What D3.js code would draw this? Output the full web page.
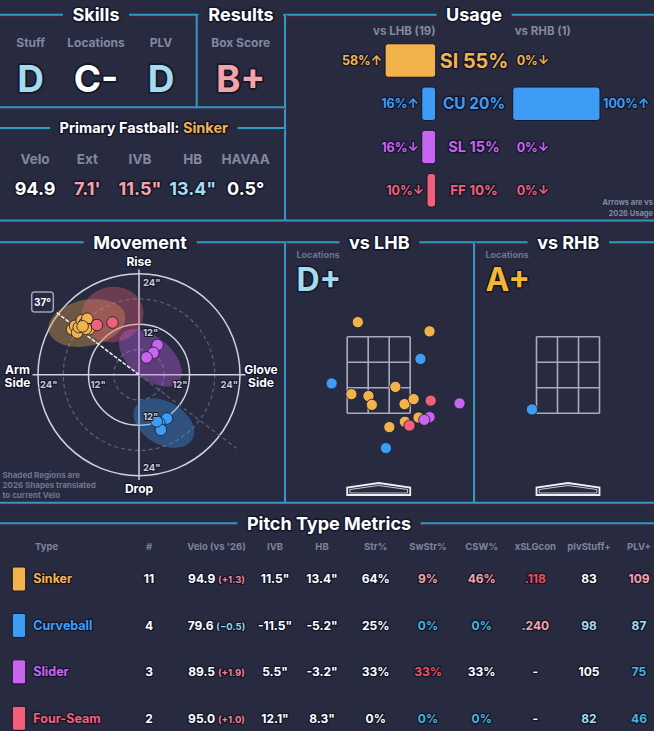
<!DOCTYPE html>
<html><head><meta charset="utf-8">
<script src="https://cdn.jsdelivr.net/npm/d3@7"></script>
<style>
html,body{margin:0;padding:0;background:#282a3f;}
svg text{font-family:Inter,"DejaVu Sans",sans-serif;font-weight:700;}
.o{paint-order:stroke;stroke:#14162a;stroke-linejoin:round;}
</style></head>
<body><svg id="c" width="654" height="731"></svg>
<script>
// ---------------- DATA ----------------
const pitchCodes = ["SI","CU","SL","FF"];
const pitchNames = ["Sinker","Curveball","Slider","Four-Seam"];
const skillLabels = ["Stuff","Locations","PLV"];
const skillGrades = ["D","C-","D"];
const boxScoreGrade = "B+";
const primaryFastball = "Sinker";
const fbLabels = ["Velo","Ext","IVB","HB","HAVAA"];
const fbValues = ["94.9","7.1'","11.5\"","13.4\"","0.5°"];
const fbGrades = [0,1,1,-1,0];
const usageAll = [55,20,15,10];
const usageLHB = [58,16,16,10];
const usageRHB = [0,100,0,0];
const arrowLHB = ["↑","↑","↓","↓"];
const arrowRHB = ["↓","↑","↓","↓"];
const countLHB = 19, countRHB = 1;
const armAngle = 37;
// movement (HB, IVB in inches)
const movSI = [[15.9,10.8],[15.2,11.6],[14.7,10.0],[14.3,11.3],[13.6,12.9],[13.1,11.9],[12.8,12.4],[12.3,13.3],[11.9,10.8],[12.6,10.9],[13.4,11.5]];
const movCU = [[-6.6,-10.4],[-4.8,-11.4],[-5.2,-13.1],[-4.2,-11.1]];
const movSL = [[-4.4,7.05],[-3.4,5.2],[-1.8,4.1]];
const movFF = [[10.0,11.8],[6.3,12.4]];
// 2026 shapes: [HB, IVB, rx, ry, rotation deg]
const shapeSI = [12.4,12.3,9.3,5.5,-12];
const shapeFF = [6.3,14.3,7.4,6.6,-10];
const shapeSL = [-2.7,4.0,8.8,5.0,40];
const shapeCU = [-5.9,-11.5,7.8,5.1,30];
// locations (plate_x, plate_z in ft)
const locLHB_SI = [[-0.55,3.88],[1.34,3.64],[-0.72,2.0],[-0.27,1.95],[-0.18,1.72],[0.44,2.19],[0.68,1.74],[0.92,1.87],[1.05,1.39],[0.69,1.28],[0.28,1.14]];
const locLHB_CU = [[1.10,2.92],[-1.24,2.28],[0.19,0.59]];
const locLHB_SL = [[2.13,1.76],[1.34,1.40],[1.20,1.33]];
const locLHB_FF = [[1.37,1.83],[0.81,1.18]];
const locRHB_CU = [[-0.95,1.60]];
const locGradeLHB = "D+", locGradeRHB = "A+";
// table
const tblHeaders = ["Type","#","Velo (vs '26)","IVB","HB","Str%","SwStr%","CSW%","xSLGcon","plvStuff+","PLV+"];
const tblCount = [11,4,3,2];
const tblVelo = ["94.9","79.6","89.5","95.0"];
const tblVeloDiff = [1.3,-0.5,1.9,1.0];
const tblIVB = ["11.5\"","-11.5\"","5.5\"","12.1\""];
const tblHB = ["13.4\"","-5.2\"","-3.2\"","8.3\""];
const tblStr = ["64%","25%","33%","0%"];
const tblSwStr = ["9%","0%","33%","0%"];
const tblCSW = ["46%","0%","33%","0%"];
const tblXSLG = [".118",".240","-","-"];
const tblStuff = [83,98,105,82];
const tblPLV = [109,87,75,46];
const gStr = [0,0,0,0], gSwStr=[1,-2,2,-2], gCSW=[1,-2,0,-2], gXSLG=[2,1,0,0], gStuff=[0,-1,0,-1], gPLV=[1,-1,-2,-2];

// ---------------- STYLE ----------------
const CY="#2a9cc3", SHADOW="#4a2342", GRAY="#8088a2", BG="#282a3f";
const pitchColor = d3.scaleOrdinal().domain(pitchCodes).range(["#f2b34c","#3d9df5","#c865ef","#f0607a"]);
const gradeColor = d3.scaleOrdinal().domain([-2,-1,0,1,2]).range(["#45b6da","#a6dcee","#ffffff","#f4a3a8","#ef4f5c"]);
const letterColor = d3.scaleOrdinal().domain(["A+","B+","C-","D+","D"]).range(["#f4b731","#f4a3a8","#ffffff","#a3dbef","#a3dbef"]);

const svg = d3.select("#c");
svg.append("rect").attr("width",654).attr("height",731).attr("fill",BG);
const gLines = svg.append("g");
const g = svg.append("g");

function txt(parent,x,y,s,size,fill,anchor="middle",sw=2.5){
  return parent.append("text").attr("x",x).attr("y",y).attr("font-size",size)
   .attr("fill",fill).attr("text-anchor",anchor).attr("class","o").attr("stroke-width",sw).text(s);
}
function title(x,yc,s,size=18){ return txt(g,x,yc+size*0.36,s,size,"#fff","middle",3); }
function seg(x1,y1,x2,y2){
  const horiz = y1===y2;
  gLines.append("line").attr("x1",x1+(horiz?0:1.5)).attr("x2",x2+(horiz?0:1.5)).attr("y1",y1+(horiz?1.5:0)).attr("y2",y2+(horiz?1.5:0)).attr("stroke",SHADOW).attr("stroke-width",1.2);
  gLines.append("line").attr("x1",x1).attr("x2",x2).attr("y1",y1).attr("y2",y2).attr("stroke",CY).attr("stroke-width",2);
}
function hline(y,x0,x1,titles){
  let segs=[[x0,x1]];
  titles.forEach(t=>{const b=t.node().getBBox(); const a=b.x-9.5, c=b.x+b.width+9.5;
    segs=segs.flatMap(([p,q])=> (c<=p||a>=q)?[[p,q]]:[[p,Math.max(p,a)],[Math.min(q,c),q]].filter(s=>s[1]-s[0]>0.5));});
  segs.forEach(([p,q])=>seg(p,y,q,y));
}

// ---------------- TOP: Skills / Results ----------------
const tSkills = title(96,14.7,"Skills");
const tResults = title(241,14.7,"Results");
const tUsage = title(474,14.7,"Usage");
hline(14.7,0,654,[tSkills,tResults,tUsage]);
seg(196.7,14.7,196.7,107.3);
seg(285,14.7,285,220);
seg(0,107.3,285,107.3);
seg(0,220.5,654,220.5);

const skillX=[30.7,96,161];
skillLabels.forEach((l,i)=>{
  txt(g,skillX[i],46.6,l,12,GRAY,"middle",0);
  txt(g,skillX[i],91.7,skillGrades[i],37,letterColor(skillGrades[i]),"middle",3.5);
});
txt(g,240.7,46.6,"Box Score",12,GRAY,"middle",0);
txt(g,240.7,91.7,boxScoreGrade,37,letterColor(boxScoreGrade),"middle",3.5);

// Primary fastball
const tPF = g.append("text").attr("x",143.8).attr("y",128+5.3).attr("font-size",14.5)
  .attr("text-anchor","middle").attr("class","o").attr("stroke-width",3);
tPF.append("tspan").attr("fill","#fff").text("Primary Fastball: ");
tPF.append("tspan").attr("fill",pitchColor("SI")).text(primaryFastball);
hline(128,0,285,[tPF]);
const fbX=[35,87.3,140,192.7,245.7];
fbLabels.forEach((l,i)=>{
  txt(g,fbX[i],164,l,13.5,GRAY,"middle",0);
  txt(g,fbX[i],194.8,fbValues[i],18,gradeColor(fbGrades[i]),"middle",3);
});

// ---------------- Usage ----------------
const uy = d3.scalePoint().domain(pitchCodes).range([60.5,190.3]);
const uw = d3.scaleLinear().domain([0,100]).range([0,87.3]);
const uFont = d3.scaleSqrt().domain([10,55]).range([13.5,19.8]);
const lhbRight=435.7, rhbLeft=512.7, barH=33.5;
txt(g,lhbRight,35,`vs LHB (${countLHB})`,11.5,GRAY,"end",0);
txt(g,rhbLeft+2,35,`vs RHB (${countRHB})`,11.5,GRAY,"start",0);
pitchCodes.forEach((c,i)=>{
  const y=uy(c), col=pitchColor(c);
  const wl=uw(usageLHB[i]), wr=uw(usageRHB[i]);
  if(wl>0) g.append("rect").attr("x",lhbRight-wl).attr("y",y-barH/2).attr("width",wl).attr("height",barH).attr("rx",3).attr("fill",col).attr("stroke","#14162a").attr("stroke-width",1);
  if(wr>0) g.append("rect").attr("x",rhbLeft).attr("y",y-barH/2).attr("width",wr).attr("height",barH).attr("rx",3).attr("fill",col).attr("stroke","#14162a").attr("stroke-width",1);
  txt(g,lhbRight-wl-3,y+4.5,usageLHB[i]+"%"+arrowLHB[i],12.5,col,"end",2.5);
  txt(g,rhbLeft+wr+(wr>0?3:4),y+4.5,usageRHB[i]+"%"+arrowRHB[i],12.5,col,"start",2.5);
  const fs=uFont(usageAll[i]);
  txt(g,474,y+fs*0.36,c+" "+usageAll[i]+"%",fs,col,"middle",3);
});
txt(g,653,205,"Arrows are vs",7.5,GRAY,"end",0);
txt(g,653,216,"2026 Usage",7.5,GRAY,"end",0);

// ---------------- Row 2 titles ----------------
const tMov = title(140,242.3,"Movement");
const tL = title(379.3,242.3,"vs LHB");
const tR = title(568.3,242.3,"vs RHB");
hline(242.3,0,654,[tMov,tL,tR]);
seg(285,242.3,285,502.7);
seg(474,242.3,474,502.7);
seg(0,502.7,654,502.7);

// ---------------- Movement ----------------
const mcx=139, mcy=374.7, mR=101;
const mx=d3.scaleLinear().domain([0,24]).range([mcx,mcx-mR]);
const my=d3.scaleLinear().domain([0,24]).range([mcy,mcy-mR]);
const mr=d3.scaleLinear().domain([0,24]).range([0,mR]);
const mg=g.append("g");
[6,18].forEach(v=>mg.append("circle").attr("cx",mcx).attr("cy",mcy).attr("r",mr(v)).attr("fill","none").attr("stroke","#5d6078").attr("stroke-width",1.2).attr("stroke-dasharray","4,3"));
[12,24].forEach(v=>mg.append("circle").attr("cx",mcx).attr("cy",mcy).attr("r",mr(v)).attr("fill","none").attr("stroke","#cfd1dc").attr("stroke-width",1.5));
mg.append("line").attr("x1",mx(25.3)).attr("x2",mx(-25.3)).attr("y1",mcy).attr("y2",mcy).attr("stroke","#cfd1dc").attr("stroke-width",1.5);
mg.append("line").attr("x1",mcx).attr("x2",mcx).attr("y1",my(25)).attr("y2",my(-25)).attr("stroke","#cfd1dc").attr("stroke-width",1.5);
const rad=armAngle*Math.PI/180;
mg.append("line").attr("x1",mcx).attr("y1",mcy).attr("x2",mx(-29*Math.cos(rad))).attr("y2",my(-29*Math.sin(rad))).attr("stroke","#5d6078").attr("stroke-width",1.2).attr("stroke-dasharray","4,3");
[["SI",shapeSI],["FF",shapeFF],["SL",shapeSL],["CU",shapeCU]].forEach(([c,s])=>{
  mg.append("ellipse").attr("cx",0).attr("cy",0).attr("rx",mr(s[2])).attr("ry",mr(s[3]))
   .attr("transform",`translate(${mx(s[0])},${my(s[1])}) rotate(${s[4]})`)
   .attr("fill",pitchColor(c)).attr("fill-opacity",0.34);
});
mg.append("line").attr("x1",mcx).attr("y1",mcy).attr("x2",mx(24.5*Math.cos(rad))).attr("y2",my(24.5*Math.sin(rad))).attr("stroke","#f2f2f6").attr("stroke-width",1.5).attr("stroke-dasharray","4,1.5");
mg.append("rect").attr("x",31.7).attr("y",292).attr("width",21.6).attr("height",20).attr("rx",3).attr("fill",BG).attr("stroke","#9ea3b8").attr("stroke-width",1.5);
txt(mg,42.5,305.5,armAngle+"°",10,"#fff","middle",0);
[["SI",movSI],["FF",movFF],["SL",movSL],["CU",movCU]].forEach(([c,arr])=>{
  arr.forEach(p=>mg.append("circle").attr("cx",mx(p[0])).attr("cy",my(p[1])).attr("r",5.8).attr("fill",pitchColor(c)).attr("stroke","#1a1c2e").attr("stroke-width",0.8));
});
const TC="#c8cad6";
[24,12].forEach(v=>{
  txt(mg,mcx+4,my(v)+12,v+"\"",9.5,TC,"start",2);
  txt(mg,mcx+4,my(-v)-5,v+"\"",9.5,TC,"start",2);
  txt(mg,mx(v)+2,mcy+13,v+"\"",9.5,TC,"start",2);
  txt(mg,mx(-v)-2,mcy+13,v+"\"",9.5,TC,"end",2);
});
txt(mg,mcx,266,"Rise",12,"#fff","middle",2.5);
txt(mg,mcx,493,"Drop",12,"#fff","middle",2.5);
txt(mg,17.5,373.5,"Arm",12,"#fff","middle",2.5);
txt(mg,17.5,387,"Side",12,"#fff","middle",2.5);
txt(mg,261,373.5,"Glove",12,"#fff","middle",2.5);
txt(mg,261,387,"Side",12,"#fff","middle",2.5);
["Shaded Regions are","2026 Shapes translated","to current Velo"].forEach((s,i)=>txt(mg,2.5,477.5+i*10,s,8,"#6f7590","start",0));

// ---------------- Locations ----------------
function locPanel(cx,labelX,grade,sets){
  const lg=g.append("g");
  const lx=d3.scaleLinear().domain([-0.83,0.83]).range([cx-31.5,cx+31.5]);
  const ly=d3.scaleLinear().domain([1.5,3.5]).range([413.3,336.7]);
  txt(lg,labelX,257.5,"Locations",9,"#6f7590","start",0);
  txt(lg,labelX,291,grade,32,letterColor(grade),"start",3);
  const xs=d3.range(4).map(i=>-0.83+i*1.66/3), zs=d3.range(4).map(i=>1.5+i*2/3);
  xs.forEach(v=>lg.append("line").attr("x1",lx(v)).attr("x2",lx(v)).attr("y1",ly(1.5)).attr("y2",ly(3.5)).attr("stroke","#a9abbb").attr("stroke-width",1.6));
  zs.forEach(v=>lg.append("line").attr("x1",lx(-0.83)).attr("x2",lx(0.83)).attr("y1",ly(v)).attr("y2",ly(v)).attr("stroke","#a9abbb").attr("stroke-width",1.6));
  const plate=[[-0.83,495],[-0.83,487.5],[0,483],[0.83,487.5],[0.83,495]];
  lg.append("polygon").attr("points",plate.map(p=>[lx(p[0]),p[1]].join(",")).join(" ")).attr("fill","none").attr("stroke","#eeeef3").attr("stroke-width",1.8);
  const inner=[[-0.76,493],[-0.76,489.5],[0,485.5],[0.76,489.5],[0.76,493]];
  lg.append("polygon").attr("points",inner.map(p=>[lx(p[0]),p[1]].join(",")).join(" ")).attr("fill","none").attr("stroke","#eeeef3").attr("stroke-width",0.8);
  sets.forEach(([c,arr])=>arr.forEach(p=>lg.append("circle").attr("cx",lx(p[0])).attr("cy",ly(p[1])).attr("r",5.6).attr("fill",pitchColor(c)).attr("stroke","#1a1c2e").attr("stroke-width",0.8)));
}
locPanel(378.7,296.5,locGradeLHB,[["SI",locLHB_SI],["CU",locLHB_CU],["SL",locLHB_SL],["FF",locLHB_FF]]);
locPanel(568,485.5,locGradeRHB,[["CU",locRHB_CU]]);

// ---------------- Table ----------------
const tT = title(329,523.3,"Pitch Type Metrics");
hline(523.3,0,654,[tT]);
const colX=[35,149,216.5,275,322,375.7,428,481.7,535.3,589,639];
tblHeaders.forEach((h,i)=>txt(g,colX[i],550.2,h,9.5,"#7d849e",i===0?"start":"middle",0));
const ry=d3.scalePoint().domain(pitchCodes).range([579,718.3]);
pitchCodes.forEach((c,i)=>{
  const y=ry(c), b=y+4.4, col=pitchColor(c);
  g.append("rect").attr("x",12.3).attr("y",y-12).attr("width",13.4).attr("height",24).attr("rx",2).attr("fill",col).attr("stroke","#14162a").attr("stroke-width",1);
  txt(g,33.3,b,pitchNames[i],12.5,col,"start",2.5);
  txt(g,colX[1],b,tblCount[i],12,"#fff","middle",2.5);
  const vt=g.append("text").attr("x",colX[2]).attr("y",b).attr("text-anchor","middle").attr("class","o").attr("stroke-width",2.5);
  vt.append("tspan").attr("font-size",12).attr("fill","#fff").text(tblVelo[i]+" ");
  const d=tblVeloDiff[i];
  vt.append("tspan").attr("font-size",9.5).attr("fill",d>=0?"#f0848f":"#8fd3ea").text("("+(d>=0?"+":"−")+Math.abs(d).toFixed(1)+")");
  txt(g,colX[3],b,tblIVB[i],12,"#fff","middle",2.5);
  txt(g,colX[4],b,tblHB[i],12,"#fff","middle",2.5);
  txt(g,colX[5],b,tblStr[i],12,gradeColor(gStr[i]),"middle",2.5);
  txt(g,colX[6],b,tblSwStr[i],12,gradeColor(gSwStr[i]),"middle",2.5);
  txt(g,colX[7],b,tblCSW[i],12,gradeColor(gCSW[i]),"middle",2.5);
  txt(g,colX[8],b,tblXSLG[i],12,gradeColor(gXSLG[i]),"middle",2.5);
  txt(g,colX[9],b,tblStuff[i],12,gradeColor(gStuff[i]),"middle",2.5);
  txt(g,colX[10],b,tblPLV[i],12,gradeColor(gPLV[i]),"middle",2.5);
});
</script></body></html>
